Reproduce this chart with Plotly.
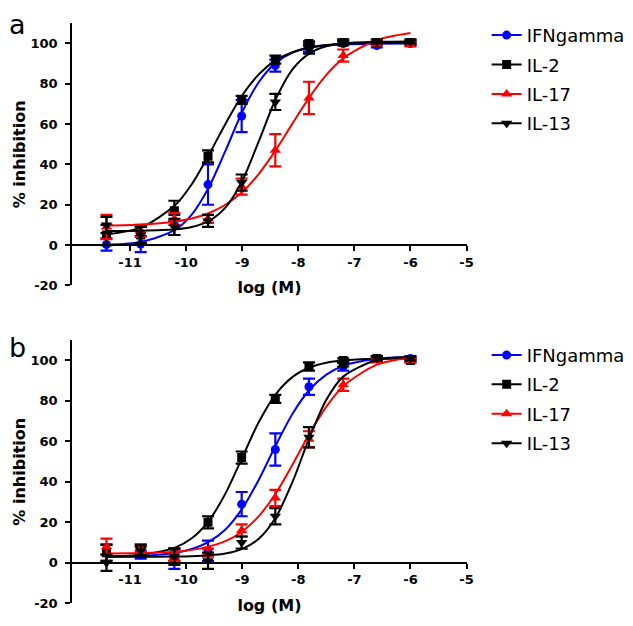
import plotly.graph_objects as go

# ---------------- data ----------------
series_names = ["IFNgamma", "IL-2", "IL-17", "IL-13"]
series_colors = ["#0000ff", "#000000", "#ff0000", "#000000"]
series_symbols = ["circle", "square", "triangle-up", "triangle-down"]
series_sizes = [9, 9, 10, 10]

# log concentrations of the measured points
log_conc = [-11.42, -10.81, -10.21, -9.61, -9.01, -8.41, -7.81, -7.2, -6.6, -6.0]

# panel a : mean values and error (SEM)
a_ifn = [0.3, 0.5, 10, 30, 64, 89, 98, 100, 99, 100]
a_ifn_err = [3, 4, 5, 10, 8, 3, 2, 1, 1, 1]
a_il2 = [5, 5, 17, 44, 72, 92, 100, 100.5, 100.5, 100.5]
a_il2_err = [5, 4, 5, 3, 2, 2, 1, 1, 1, 1]
a_il17 = [9, 7, 13, 13, 29, 47, 73, 94, 100, 99.5]
a_il17_err = [6, 3, 3, 2, 4, 8, 8, 3, 1, 1]
a_il13 = [10, 5, 9, 12, 31, 71, 97, 101, 101, 101]
a_il13_err = [4, 4, 4, 3, 4, 4, 2, 1, 1, 1]

# panel b : mean values and error (SEM)
b_ifn = [5, 4, 2, 6, 29, 56, 87, 97, 101, 101]
b_ifn_err = [4, 2, 5, 5, 6, 8, 4, 2, 1, 1]
b_il2 = [5, 6, 4, 20, 52, 81, 97, 100, 101, 100]
b_il2_err = [4, 2, 3, 3, 3, 2, 2, 1, 1, 1]
b_il17 = [8, 7, 3, 5, 16, 32, 61, 88, 100, 100]
b_il17_err = [4, 2, 2, 2, 3, 4, 4, 3, 1, 1]
b_il13 = [0, 6, 3, 1, 10, 23, 62, 98, 101, 101]
b_il13_err = [4, 3, 4, 4, 3, 4, 5, 1, 1, 1]

# fitted dose-response curves
curve_x = [-11.42, -10.8, -10.2, -9.9, -9.6, -9.3, -9.0, -8.7, -8.4, -8.1, -7.8, -7.5, -7.2, -6.6, -6.0]
a_ifn_fit = [0.3, 1.6, 7.5, 15.1, 28.4, 46.7, 66.0, 81.0, 90.5, 95.5, 97.9, 99.0, 99.6, 99.9, 100]
a_il2_fit = [5.3, 8.8, 19.7, 30.2, 44.5, 60.1, 74.3, 84.8, 91.7, 95.7, 98.0, 99.2, 99.8, 100.3, 100.5]
a_il17_fit = [9.7, 10.2, 11.7, 13.2, 15.8, 20.0, 26.3, 35.5, 47.2, 60.5, 73.4, 84.4, 92.6, 101.7, 105.2]
a_il13_fit = [7.0, 7.1, 7.8, 9.0, 11.9, 18.6, 31.8, 51.8, 72.6, 87.3, 95.1, 98.6, 100.0, 100.8, 101]
b_ifn_fit = [3.1, 3.5, 4.9, 6.8, 10.3, 16.5, 26.8, 41.3, 58.2, 73.8, 85.5, 93.0, 97.3, 100.8, 101.7]
b_il2_fit = [3.2, 4.0, 7.5, 12.1, 20.6, 34.2, 52.0, 69.8, 83.4, 91.9, 96.5, 98.9, 100, 100.8, 101]
b_il17_fit = [4.6, 4.8, 5.5, 6.4, 8.0, 10.7, 15.5, 23.2, 34.4, 48.7, 63.8, 77.2, 87.3, 97.9, 101.5]
b_il13_fit = [3.0, 3.0, 3.1, 3.3, 3.7, 4.6, 6.9, 12.0, 22.5, 40.2, 62.0, 80.6, 92.0, 100.2, 101.7]

x_ticks = [-11, -10, -9, -8, -7, -6, -5]
x_tick_text = ["-11", "-10", "-9", "-8", "-7", "-6", "-5"]
y_ticks = [-20, 0, 20, 40, 60, 80, 100]
y_tick_text = ["-20", "0", "20", "40", "60", "80", "100"]
x_title = "log (M)"
y_title = "% inhibition"
panel_labels = ["a", "b"]

panels = [
    dict(means=[a_ifn, a_il2, a_il17, a_il13],
         errs=[a_ifn_err, a_il2_err, a_il17_err, a_il13_err],
         fits=[a_ifn_fit, a_il2_fit, a_il17_fit, a_il13_fit]),
    dict(means=[b_ifn, b_il2, b_il17, b_il13],
         errs=[b_ifn_err, b_il2_err, b_il17_err, b_il13_err],
         fits=[b_ifn_fit, b_il2_fit, b_il17_fit, b_il13_fit]),
]

# ---------------- figure ----------------
W, H = 633, 626
fig = go.Figure()

TICK_FONT = dict(family="DejaVu Sans", size=13, color="black", weight="bold")
TITLE_FONT = dict(family="DejaVu Sans", size=16, color="black", weight="bold")
LEG_FONT = dict(family="DejaVu Sans", size=18, color="black")

x_dom = [65 / W, 463.7 / W]
y_doms = [[1 - 281 / H, 1 - 15.5 / H], [1 - 603 / H, 1 - 336.5 / H]]
y_range = [-20, 110]

for p, panel in enumerate(panels):
    xa = "x" if p == 0 else "x2"
    ya = "y" if p == 0 else "y2"
    leg = "legend" if p == 0 else "legend2"
    for i, name in enumerate(series_names):
        col = series_colors[i]
        grp = f"{p}_{name}"
        # fitted curve
        fig.add_trace(go.Scatter(
            x=curve_x, y=panel["fits"][i], mode="lines",
            line=dict(color=col, width=2, shape="spline", smoothing=0.8),
            xaxis=xa, yaxis=ya, showlegend=False, hoverinfo="skip",
            legendgroup=grp, legend=leg))
        # measured points with error bars
        fig.add_trace(go.Scatter(
            x=log_conc, y=panel["means"][i], mode="markers",
            marker=dict(symbol=series_symbols[i], size=series_sizes[i], color=col),
            error_y=dict(type="data", array=panel["errs"][i], visible=True,
                         color=col, thickness=2.2, width=6),
            xaxis=xa, yaxis=ya, showlegend=False, name=name,
            legendgroup=grp, legend=leg))
        # legend entry (line + marker)
        fig.add_trace(go.Scatter(
            x=[None], y=[None], mode="lines+markers", name=name,
            marker=dict(symbol=series_symbols[i], size=series_sizes[i], color=col),
            line=dict(color=col, width=2),
            xaxis=xa, yaxis=ya, legend=leg, legendgroup=grp, legendrank=i + 1))

axis_common = dict(showgrid=False, zeroline=False, showline=True, linecolor="black",
                   linewidth=2, ticks="outside", ticklen=5, tickwidth=2, tickcolor="black",
                   tickfont=TICK_FONT)

for p in range(2):
    yd = y_doms[p]
    zero_pos = yd[0] + (0 - y_range[0]) / (y_range[1] - y_range[0]) * (yd[1] - yd[0])
    xkey = "xaxis" if p == 0 else "xaxis2"
    ykey = "yaxis" if p == 0 else "yaxis2"
    fig.update_layout(**{
        xkey: dict(axis_common, domain=x_dom, range=[-12.03, -5], tickvals=x_ticks,
                   ticktext=x_tick_text, anchor="free", position=zero_pos,
                   title=dict(text=x_title, font=TITLE_FONT, standoff=12)),
        ykey: dict(axis_common, domain=yd, range=y_range, tickvals=y_ticks,
                   ticktext=y_tick_text, ticklabelstandoff=5,
                   anchor="x" if p == 0 else "x2",
                   title=dict(text=y_title, font=TITLE_FONT, standoff=1)),
    })

fig.update_layout(
    width=W, height=H, margin=dict(l=0, r=0, t=0, b=0),
    paper_bgcolor="white", plot_bgcolor="white",
    legend=dict(x=484 / W, y=1 - 9 / H, xanchor="left", yanchor="top",
                font=LEG_FONT, bgcolor="rgba(0,0,0,0)", tracegroupgap=3),
    legend2=dict(x=484 / W, y=1 - 333 / H, xanchor="left", yanchor="top",
                 font=LEG_FONT, bgcolor="rgba(0,0,0,0)", tracegroupgap=3),
    annotations=[
        dict(text=panel_labels[0], x=0, y=1, xref="paper", yref="paper",
             xanchor="left", yanchor="top", showarrow=False, borderpad=0,
             font=dict(family="DejaVu Sans", size=27, color="black")),
        dict(text=panel_labels[1], x=0, y=1 - 327 / H, xref="paper", yref="paper",
             xanchor="left", yanchor="top", showarrow=False, borderpad=0,
             font=dict(family="DejaVu Sans", size=27, color="black")),
    ],
)

fig.write_html("out.html")
